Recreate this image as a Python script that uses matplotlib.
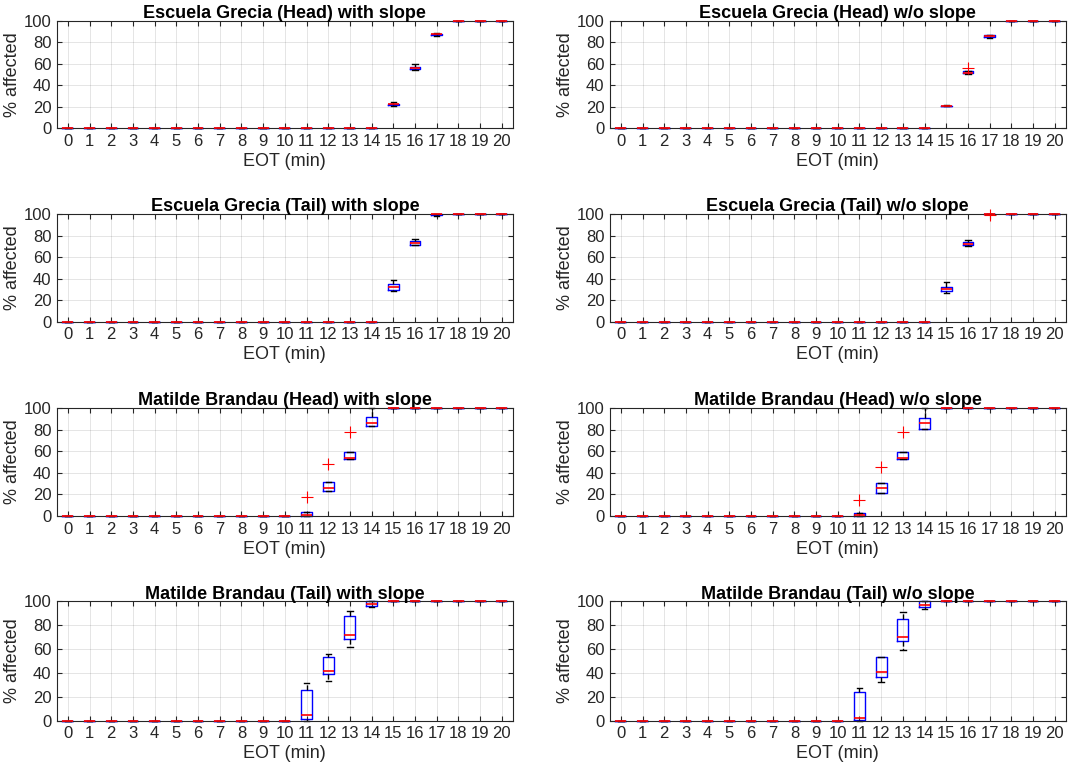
import matplotlib
matplotlib.use('Agg')
import matplotlib.pyplot as plt

plt.rcParams['font.family'] = ['Liberation Sans', 'DejaVu Sans']

# EOT categories (minutes)
eot = list(range(21))

titles = [
    'Escuela Grecia (Head) with slope', 'Escuela Grecia (Head) w/o slope',
    'Escuela Grecia (Tail) with slope', 'Escuela Grecia (Tail) w/o slope',
    'Matilde Brandau (Head) with slope', 'Matilde Brandau (Head) w/o slope',
    'Matilde Brandau (Tail) with slope', 'Matilde Brandau (Tail) w/o slope',
]

# box statistics per EOT: q1, median, q3, lower whisker, upper whisker
# Escuela Grecia (Head) with slope
egh_s_q1 = [0] * 15 + [21.5, 55.4, 86.6, 100, 100, 100]
egh_s_med = [0] * 15 + [22.5, 56.5, 87.3, 100, 100, 100]
egh_s_q3 = [0] * 15 + [23.0, 57.4, 88.0, 100, 100, 100]
egh_s_lo = [0] * 15 + [21.0, 54.5, 86.0, 100, 100, 100]
egh_s_hi = [0] * 15 + [24.5, 59.5, 88.8, 100, 100, 100]
egh_s_fl = {}

# Escuela Grecia (Head) w/o slope
egh_n_q1 = [0] * 15 + [20.5, 51.0, 84.8, 100, 100, 100]
egh_n_med = [0] * 15 + [20.8, 51.5, 85.6, 100, 100, 100]
egh_n_q3 = [0] * 15 + [21.2, 53.0, 86.5, 100, 100, 100]
egh_n_lo = [0] * 15 + [20.3, 50.5, 84.3, 100, 100, 100]
egh_n_hi = [0] * 15 + [21.4, 53.5, 87.0, 100, 100, 100]
egh_n_fl = {16: [56.3]}

# Escuela Grecia (Tail) with slope
egt_s_q1 = [0] * 15 + [29.4, 71.5, 99.0, 100, 100, 100]
egt_s_med = [0] * 15 + [32.5, 73.4, 100, 100, 100, 100]
egt_s_q3 = [0] * 15 + [34.7, 74.6, 100, 100, 100, 100]
egt_s_lo = [0] * 15 + [28.2, 71.0, 98.3, 100, 100, 100]
egt_s_hi = [0] * 15 + [38.4, 76.5, 100, 100, 100, 100]
egt_s_fl = {}

# Escuela Grecia (Tail) w/o slope
egt_n_q1 = [0] * 15 + [28.8, 71.5, 100, 100, 100, 100]
egt_n_med = [0] * 15 + [30.0, 72.5, 100, 100, 100, 100]
egt_n_q3 = [0] * 15 + [32.5, 74.5, 100, 100, 100, 100]
egt_n_lo = [0] * 15 + [27.0, 70.5, 100, 100, 100, 100]
egt_n_hi = [0] * 15 + [37.0, 76.0, 100, 100, 100, 100]
egt_n_fl = {17: [98.8]}

# Matilde Brandau (Head) with slope
mbh_s_q1 = [0] * 11 + [0.0, 23.0, 53.0, 83.3] + [100] * 6
mbh_s_med = [0] * 11 + [0.5, 25.6, 53.4, 86.4] + [100] * 6
mbh_s_q3 = [0] * 11 + [4.0, 31.7, 59.7, 91.4] + [100] * 6
mbh_s_lo = [0] * 11 + [0.0, 23.0, 53.0, 83.3] + [100] * 6
mbh_s_hi = [0] * 11 + [4.0, 31.7, 59.7, 100] + [100] * 6
mbh_s_fl = {11: [17.3], 12: [48.0], 13: [78.0]}

# Matilde Brandau (Head) w/o slope
mbh_n_q1 = [0] * 11 + [0.0, 21.0, 52.5, 80.5] + [100] * 6
mbh_n_med = [0] * 11 + [0.5, 25.6, 53.4, 85.8] + [100] * 6
mbh_n_q3 = [0] * 11 + [3.0, 30.8, 59.5, 90.5] + [100] * 6
mbh_n_lo = [0] * 11 + [0.0, 21.0, 52.5, 80.5] + [100] * 6
mbh_n_hi = [0] * 11 + [3.0, 30.8, 59.5, 100] + [100] * 6
mbh_n_fl = {11: [14.8], 12: [45.7], 13: [78.0]}

# Matilde Brandau (Tail) with slope
mbt_s_q1 = [0] * 11 + [1.2, 39.0, 68.3, 96.0] + [100] * 6
mbt_s_med = [0] * 11 + [4.8, 41.7, 71.5, 98.0] + [100] * 6
mbt_s_q3 = [0] * 11 + [25.8, 53.7, 88.0, 100] + [100] * 6
mbt_s_lo = [0] * 11 + [0.0, 33.6, 61.5, 95.0] + [100] * 6
mbt_s_hi = [0] * 11 + [31.4, 56.0, 92.0, 100] + [100] * 6
mbt_s_fl = {}

# Matilde Brandau (Tail) w/o slope
mbt_n_q1 = [0] * 11 + [0.6, 37.0, 67.1, 95.0] + [100] * 6
mbt_n_med = [0] * 11 + [2.0, 40.6, 70.4, 97.0] + [100] * 6
mbt_n_q3 = [0] * 11 + [24.3, 53.2, 85.4, 100] + [100] * 6
mbt_n_lo = [0] * 11 + [0.0, 32.7, 59.3, 93.7] + [100] * 6
mbt_n_hi = [0] * 11 + [27.2, 53.7, 91.3, 100] + [100] * 6
mbt_n_fl = {}

panels = [
    (egh_s_q1, egh_s_med, egh_s_q3, egh_s_lo, egh_s_hi, egh_s_fl),
    (egh_n_q1, egh_n_med, egh_n_q3, egh_n_lo, egh_n_hi, egh_n_fl),
    (egt_s_q1, egt_s_med, egt_s_q3, egt_s_lo, egt_s_hi, egt_s_fl),
    (egt_n_q1, egt_n_med, egt_n_q3, egt_n_lo, egt_n_hi, egt_n_fl),
    (mbh_s_q1, mbh_s_med, mbh_s_q3, mbh_s_lo, mbh_s_hi, mbh_s_fl),
    (mbh_n_q1, mbh_n_med, mbh_n_q3, mbh_n_lo, mbh_n_hi, mbh_n_fl),
    (mbt_s_q1, mbt_s_med, mbt_s_q3, mbt_s_lo, mbt_s_hi, mbt_s_fl),
    (mbt_n_q1, mbt_n_med, mbt_n_q3, mbt_n_lo, mbt_n_hi, mbt_n_fl),
]

fig = plt.figure(figsize=(10.72, 7.73), dpi=100)

# axes placement (figure fractions) in the MATLAB subplot grid
col_left = [0.0532, 0.5690]
col_w = 0.4250
rows = [(0.8340, 0.1392), (0.5838, 0.1393), (0.3325, 0.1397), (0.0677, 0.1542)]

axcol = '#262626'
for i, (q1, med, q3, lo, hi, fl) in enumerate(panels):
    b, h = rows[i // 2]
    ax = fig.add_axes([col_left[i % 2], b, col_w, h])

    stats = []
    for k in eot:
        stats.append(dict(q1=q1[k], med=med[k], q3=q3[k], whislo=lo[k],
                          whishi=hi[k], fliers=fl.get(k, [])))

    art = ax.bxp(stats, positions=eot, widths=0.5, capwidths=0.25,
                 boxprops=dict(color='blue', lw=1.0),
                 medianprops=dict(color='red', lw=1.2),
                 whiskerprops=dict(color='black', lw=1.0, ls='--'),
                 capprops=dict(color='black', lw=1.0),
                 flierprops=dict(marker='+', markeredgecolor='red',
                                 markersize=8, markeredgewidth=0.8))
    for key in art:
        for a in art[key]:
            a.set_clip_on(False)
    for a in art['medians']:
        a.set_zorder(4)

    ax.set_xlim(-0.5, 20.5)
    ax.set_ylim(0, 100)
    ax.set_xticks(eot)
    ax.set_xticklabels([str(k) for k in eot])
    ax.set_yticks([0, 20, 40, 60, 80, 100])
    ax.grid(True, color='#262626', alpha=0.12, lw=0.7)
    ax.set_axisbelow(True)
    ax.tick_params(direction='in', top=True, right=True, length=3.5,
                   width=0.8, color=axcol, labelsize=12, labelcolor=axcol,
                   pad=4)
    for sp in ax.spines.values():
        sp.set_color(axcol)
        sp.set_linewidth(0.8)
    ax.set_title(titles[i], fontsize=13, fontweight='bold', pad=2)
    ax.set_xlabel('EOT (min)', fontsize=13, color=axcol, labelpad=3)
    ax.set_ylabel('% affected', fontsize=13, color=axcol, labelpad=2)

plt.savefig('out.png', dpi=100)
